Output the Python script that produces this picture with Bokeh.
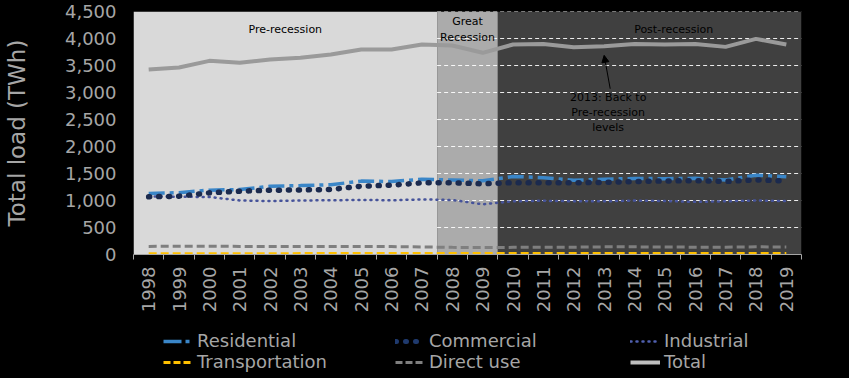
import math
from bokeh.plotting import figure
from bokeh.layouts import column
from bokeh.models import (ColumnDataSource, Range1d, FixedTicker, NumeralTickFormatter,
                          Legend, LegendItem, Arrow, NormalHead)
from bokeh.core.properties import value
from bokeh.embed import file_html
from bokeh.resources import INLINE

# ---------------- data ----------------
years = ["1998", "1999", "2000", "2001", "2002", "2003", "2004", "2005", "2006", "2007", "2008",
         "2009", "2010", "2011", "2012", "2013", "2014", "2015", "2016", "2017", "2018", "2019"]
residential = [1130, 1145, 1192, 1202, 1265, 1276, 1292, 1359, 1352, 1392, 1380,
               1364, 1446, 1423, 1375, 1395, 1407, 1404, 1411, 1378, 1469, 1440]
commercial = [1068, 1080, 1142, 1173, 1190, 1195, 1204, 1265, 1284, 1327, 1327,
              1310, 1330, 1328, 1327, 1337, 1352, 1361, 1367, 1353, 1382, 1361]
industrial = [1075, 1070, 1065, 1000, 990, 1000, 1005, 1010, 1005, 1020, 1010,
              930, 985, 995, 985, 985, 998, 990, 975, 985, 1000, 990]
transportation = [5, 5, 5, 6, 6, 7, 7, 8, 7, 8, 8, 8, 8, 8, 7, 8, 8, 8, 8, 8, 8, 8]
direct_use = [150, 152, 152, 150, 150, 150, 150, 148, 146, 140, 132,
              127, 132, 132, 135, 142, 142, 138, 136, 136, 142, 140]
total = [3426, 3463, 3586, 3550, 3611, 3642, 3704, 3796, 3796, 3889, 3870,
         3735, 3889, 3900, 3840, 3858, 3900, 3889, 3900, 3845, 3993, 3889]

region_names = ["Pre-recession", "Great\nRecession", "Post-recession"]
region_first = ["1998", "2008", "2010"]
region_last = ["2007", "2009", "2019"]
y_ticks = [0, 500, 1000, 1500, 2000, 2500, 3000, 3500, 4000, 4500]
note_year = "2013"
note_text = "2013: Back to\nPre-recession\nlevels"

series_labels = ["Residential", "Commercial", "Industrial", "Transportation", "Direct use", "Total"]

# ---------------- styles ----------------
FONT = "DejaVu Sans"
TXT = "#a6a6a6"
region_colors = ["#d9d9d9", "#ababab", "#404040"]
region_label_dx = [0, 0, 24]
styles = {
    "Residential": dict(line_color="#3a86c8", line_width=3.5, line_dash="16 5 4 5"),
    "Commercial": dict(line_color="#1b2a4e", line_width=5.5, line_dash="1 9", line_cap="round"),
    "Industrial": dict(line_color="#46539a", line_width=2.5, line_dash="1 5", line_cap="round"),
    "Transportation": dict(line_color="#ffc000", line_width=4, line_dash="8 4"),
    "Direct use": dict(line_color="#7f7f7f", line_width=3, line_dash="8 4"),
    "Total": dict(line_color="#9a9a9a", line_width=4),
}
legend_styles = dict(styles)
legend_styles["Residential"] = dict(line_color="#3a86c8", line_width=3.5, line_dash="18 4 4 4")
legend_styles["Commercial"] = dict(line_color="#1f3a6e", line_width=5, line_dash="1 9", line_cap="round")
legend_styles["Industrial"] = dict(line_color="#5060b0", line_width=2.5, line_dash="1 5", line_cap="round")
legend_styles["Transportation"] = dict(line_color="#ffc000", line_width=3, line_dash="7 3")
legend_styles["Direct use"] = dict(line_color="#7f7f7f", line_width=3, line_dash="7 3")
legend_styles["Total"] = dict(line_color="#bfbfbf", line_width=4)

W = 849
H_MAIN = 328
H_LEG = 50
BLACK_CSS = {"background-color": "black"}

idx = list(range(len(years)))
src = ColumnDataSource(dict(x=idx, res=residential, com=commercial, ind=industrial,
                            tra=transportation, dir=direct_use, tot=total))

p = figure(width=W, height=H_MAIN, x_range=Range1d(-0.5, len(years) - 0.5),
           y_range=Range1d(y_ticks[0], y_ticks[-1]),
           output_backend="svg", toolbar_location=None,
           background_fill_color="black", border_fill_color="black",
           outline_line_color=None, styles=BLACK_CSS,
           min_border_left=131, min_border_right=48, min_border_top=11, min_border_bottom=74)
p.grid.visible = False

# region backgrounds
lefts = [years.index(a) - 0.5 for a in region_first]
rights = [years.index(b) + 0.5 for b in region_last]
rsrc = ColumnDataSource(dict(left=lefts, right=rights, bottom=[y_ticks[0]] * 3,
                             top=[y_ticks[-1]] * 3, color=region_colors,
                             name=region_names, mid=[(a + b) / 2 for a, b in zip(lefts, rights)],
                             dx=region_label_dx, ty=[4170] * 3))
p.quad(left="left", right="right", bottom="bottom", top="top", fill_color="color",
       line_color=None, source=rsrc)

# dashed grid only visible over recession / post-recession areas
for yt in y_ticks[1:]:
    p.segment(x0=lefts[1], x1=rights[2], y0=yt, y1=yt, line_color="white",
              line_width=1, line_dash="4 3", line_alpha=0.9)

p.text(x="mid", y="ty", text="name", x_offset="dx", source=rsrc,
       text_font=value(FONT), text_font_size="11px", text_align="center",
       text_baseline="middle", text_color="black", text_line_height=1.25)

cols = {"Residential": "res", "Commercial": "com", "Industrial": "ind",
        "Transportation": "tra", "Direct use": "dir", "Total": "tot"}
draw_order = ["Direct use", "Transportation", "Industrial", "Residential", "Commercial", "Total"]
for name in draw_order:
    p.line("x", cols[name], source=src, **styles[name])

# annotation
ni = years.index(note_year)
p.text(x=[ni], y=[2630], text=[note_text], x_offset=4, text_font=value(FONT),
       text_font_size="11px", text_align="center", text_baseline="middle",
       text_color="black", text_line_height=1.15)
p.add_layout(Arrow(end=NormalHead(size=7, fill_color="black", line_color="black"),
                   x_start=ni + 0.2, y_start=3070, x_end=ni, y_end=total[ni] - 170,
                   line_color="black", line_width=1))

# axes
xa = p.xaxis[0]
xa.ticker = FixedTicker(ticks=idx, minor_ticks=[i - 0.5 for i in range(len(years) + 1)])
xa.major_label_overrides = {i: y for i, y in zip(idx, years)}
xa.major_label_orientation = math.pi / 2
xa.major_tick_line_color = None
xa.major_tick_out = 0
xa.major_tick_in = 0
xa.minor_tick_line_color = "#a6a6a6"
xa.minor_tick_out = 5
xa.minor_tick_in = 0
xa.axis_line_color = "#a6a6a6"
xa.major_label_standoff = 7
xa.major_label_text_font = FONT
xa.major_label_text_font_size = "18px"
xa.major_label_text_color = TXT

ya = p.yaxis[0]
ya.ticker = FixedTicker(ticks=y_ticks)
ya.formatter = NumeralTickFormatter(format="0,0")
ya.axis_line_color = None
ya.major_tick_line_color = None
ya.minor_tick_line_color = None
ya.major_tick_out = 0
ya.major_tick_in = 0
ya.major_label_standoff = 17
ya.major_label_text_font = FONT
ya.major_label_text_font_size = "18px"
ya.major_label_text_color = TXT
ya.axis_label = "Total load (TWh)"
ya.axis_label_text_font = FONT
ya.axis_label_text_font_size = "23px"
ya.axis_label_text_font_style = "normal"
ya.axis_label_text_color = TXT
ya.axis_label_standoff = 32

# legend figure (three columns of two entries); sample lines sit outside its range
pl = figure(width=W, height=H_LEG, x_range=Range1d(0, 1), y_range=Range1d(0, 1),
            output_backend="svg", toolbar_location=None, x_axis_type=None, y_axis_type=None,
            background_fill_color="black", border_fill_color="black", outline_line_color=None,
            styles=BLACK_CSS, min_border=0)
pl.grid.visible = False
leg_renderers = {name: pl.line([-3, -2], [-3, -3], **legend_styles[name]) for name in series_labels}
leg_cols = [["Residential", "Transportation"], ["Commercial", "Direct use"], ["Industrial", "Total"]]
col_x = [30, 262, 497]
for names, cx in zip(leg_cols, col_x):
    leg = Legend(items=[LegendItem(label=n, renderers=[leg_renderers[n]]) for n in names],
                 location=(cx, 6), orientation="vertical", padding=0, margin=0,
                 spacing=0, label_height=20, glyph_height=20, glyph_width=30,
                 label_standoff=4, background_fill_alpha=0, border_line_color=None,
                 label_text_font=FONT, label_text_font_size="18px",
                 label_text_color=TXT, label_text_baseline="middle")
    pl.add_layout(leg, "center")

layout = column(p, pl, spacing=0, styles=BLACK_CSS)
open("out.html", "w").write(file_html(layout, INLINE))
